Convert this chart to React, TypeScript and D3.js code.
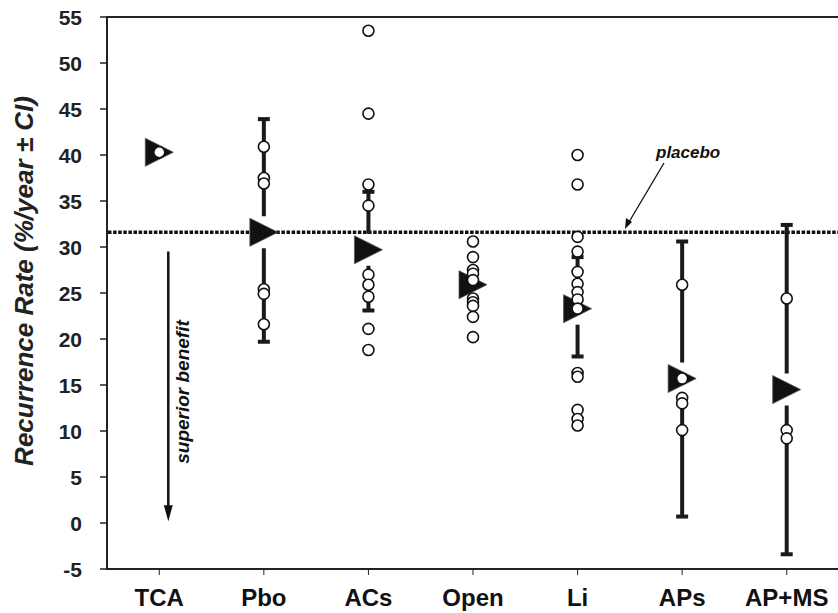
import React from "react";
import * as d3 from "d3";

const categories = ["TCA", "Pbo", "ACs", "Open", "Li", "APs", "AP+MS"];
const means = [40.3, 31.6, 29.7, 25.9, 23.3, 15.7, 14.5];
const ciLow = [null, 19.7, 23.1, null, 18.1, 0.7, -3.4];
const ciHigh = [null, 43.9, 36.0, null, 28.9, 30.6, 32.4];
const studies = [
    [40.3],
    [40.9, 37.5, 36.9, 25.4, 24.9, 21.6],
    [53.5, 44.5, 36.8, 34.5, 27.0, 25.9, 24.6, 21.1, 18.8],
    [30.6, 28.9, 27.5, 27.1, 26.4, 24.4, 24.0, 23.6, 22.4, 20.2],
    [40.0, 36.8, 31.1, 29.5, 27.3, 26.0, 25.1, 24.3, 23.3, 16.3, 15.9, 12.3, 11.3, 10.6],
    [25.9, 15.7, 13.6, 13.0, 10.1],
    [24.4, 10.1, 9.2],
];
const yTicks = [-5, 0, 5, 10, 15, 20, 25, 30, 35, 40, 45, 50, 55];
const placebo = 31.6;

const W = 838;
const H = 613;
const FONT = "'Liberation Sans', Arial, Helvetica, sans-serif";

export default function App() {
    const x = d3.scalePoint().domain(categories).range([107, 839]).padding(0.5);
    const y = d3.scaleLinear().domain([-5, 55]).range([569, 17]);
    const left = 107;
    const triHalf = 14;
    const gap = 2;

    const tri = (cx, cy) =>
        `M${cx - triHalf},${cy - triHalf}L${cx + triHalf},${cy}L${cx - triHalf},${cy + triHalf}Z`;

    const arrowX = x("TCA") + 9;
    const arrowTop = y(29.5);
    const arrowBottom = y(0.2);

    return (
        <svg width={W} height={H} style={{ position: "absolute", left: 0, top: 0, background: "white" }}>
            {/* frame */}
            <line x1={left} x2={W} y1={y(55)} y2={y(55)} stroke="#222" strokeWidth={2} />
            <line x1={left} x2={W} y1={y(-5)} y2={y(-5)} stroke="#222" strokeWidth={2} />
            <line x1={left} x2={left} y1={y(55) - 1} y2={y(-5) + 1} stroke="#222" strokeWidth={2} />

            {/* y axis */}
            {yTicks.map(t => (
                <g key={t}>
                    <line x1={left - 7} x2={left} y1={y(t)} y2={y(t)} stroke="#222" strokeWidth={1.5} />
                    <text x={left - 25} y={y(t)} dy="0.36em" textAnchor="end"
                        fontFamily={FONT} fontWeight="bold" fontSize={21} fill="#222">{t}</text>
                </g>
            ))}
            <text transform={`translate(33, 281) rotate(-90)`} textAnchor="middle"
                fontFamily={FONT} fontWeight="bold" fontStyle="italic" fontSize={26} fill="#222">
                Recurrence Rate (%/year ± CI)
            </text>

            {/* x axis */}
            {categories.map(c => (
                <g key={c}>
                    <line x1={x(c)} x2={x(c)} y1={y(-5)} y2={y(-5) + 6} stroke="#222" strokeWidth={1} />
                    <text x={x(c)} y={606} textAnchor="middle"
                        fontFamily={FONT} fontWeight="bold" fontSize={24} fill="#111">{c}</text>
                </g>
            ))}

            {/* placebo line */}
            <line x1={left + 1} x2={W} y1={y(placebo)} y2={y(placebo)} stroke="#111" strokeWidth={3.5} strokeDasharray="3.5,1.6" />
            <text x={656} y={158} fontFamily={FONT} fontWeight="bold" fontStyle="italic" fontSize={17} fill="#111">placebo</text>
            <line x1={664} y1={163} x2={629} y2={222} stroke="#111" strokeWidth={1.3} />
            <path d="M625,229 L626,218 L632,222 Z" fill="#111" />

            {/* superior benefit */}
            <line x1={arrowX} x2={arrowX} y1={arrowTop} y2={arrowBottom - 14} stroke="#111" strokeWidth={2.5} />
            <path d={`M${arrowX - 4.5},${arrowBottom - 16}L${arrowX + 4.5},${arrowBottom - 16}L${arrowX},${arrowBottom}Z`} fill="#111" />
            <text transform={`translate(${arrowX + 21}, 392) rotate(-90)`} textAnchor="middle"
                fontFamily={FONT} fontWeight="bold" fontStyle="italic" fontSize={19} fill="#111">
                superior benefit
            </text>

            {/* error bars */}
            {categories.map((c, i) => {
                if (ciLow[i] == null) return null;
                const cx = x(c);
                const cy = y(means[i]);
                const top = y(ciHigh[i]);
                const bot = y(ciLow[i]);
                return (
                    <g key={c} stroke="#1a1a1a">
                        <line x1={cx} x2={cx} y1={top} y2={cy - triHalf - gap} strokeWidth={4} />
                        <line x1={cx} x2={cx} y1={cy + triHalf + gap} y2={bot} strokeWidth={4} />
                        <line x1={cx - 6} x2={cx + 6} y1={top} y2={top} strokeWidth={4} />
                        <line x1={cx - 6} x2={cx + 6} y1={bot} y2={bot} strokeWidth={4} />
                    </g>
                );
            })}

            {/* means */}
            {categories.map((c, i) => (
                <path key={c} d={tri(x(c), y(means[i]))} fill="#111" stroke="#555" strokeWidth={0.8} />
            ))}

            {/* individual studies */}
            {categories.map((c, i) => studies[i].map((v, j) => (
                <circle key={`${c}-${j}`} cx={x(c)} cy={y(v)} r={5.5} fill="white" stroke="#111" strokeWidth={1.6} />
            )))}
        </svg>
    );
}
